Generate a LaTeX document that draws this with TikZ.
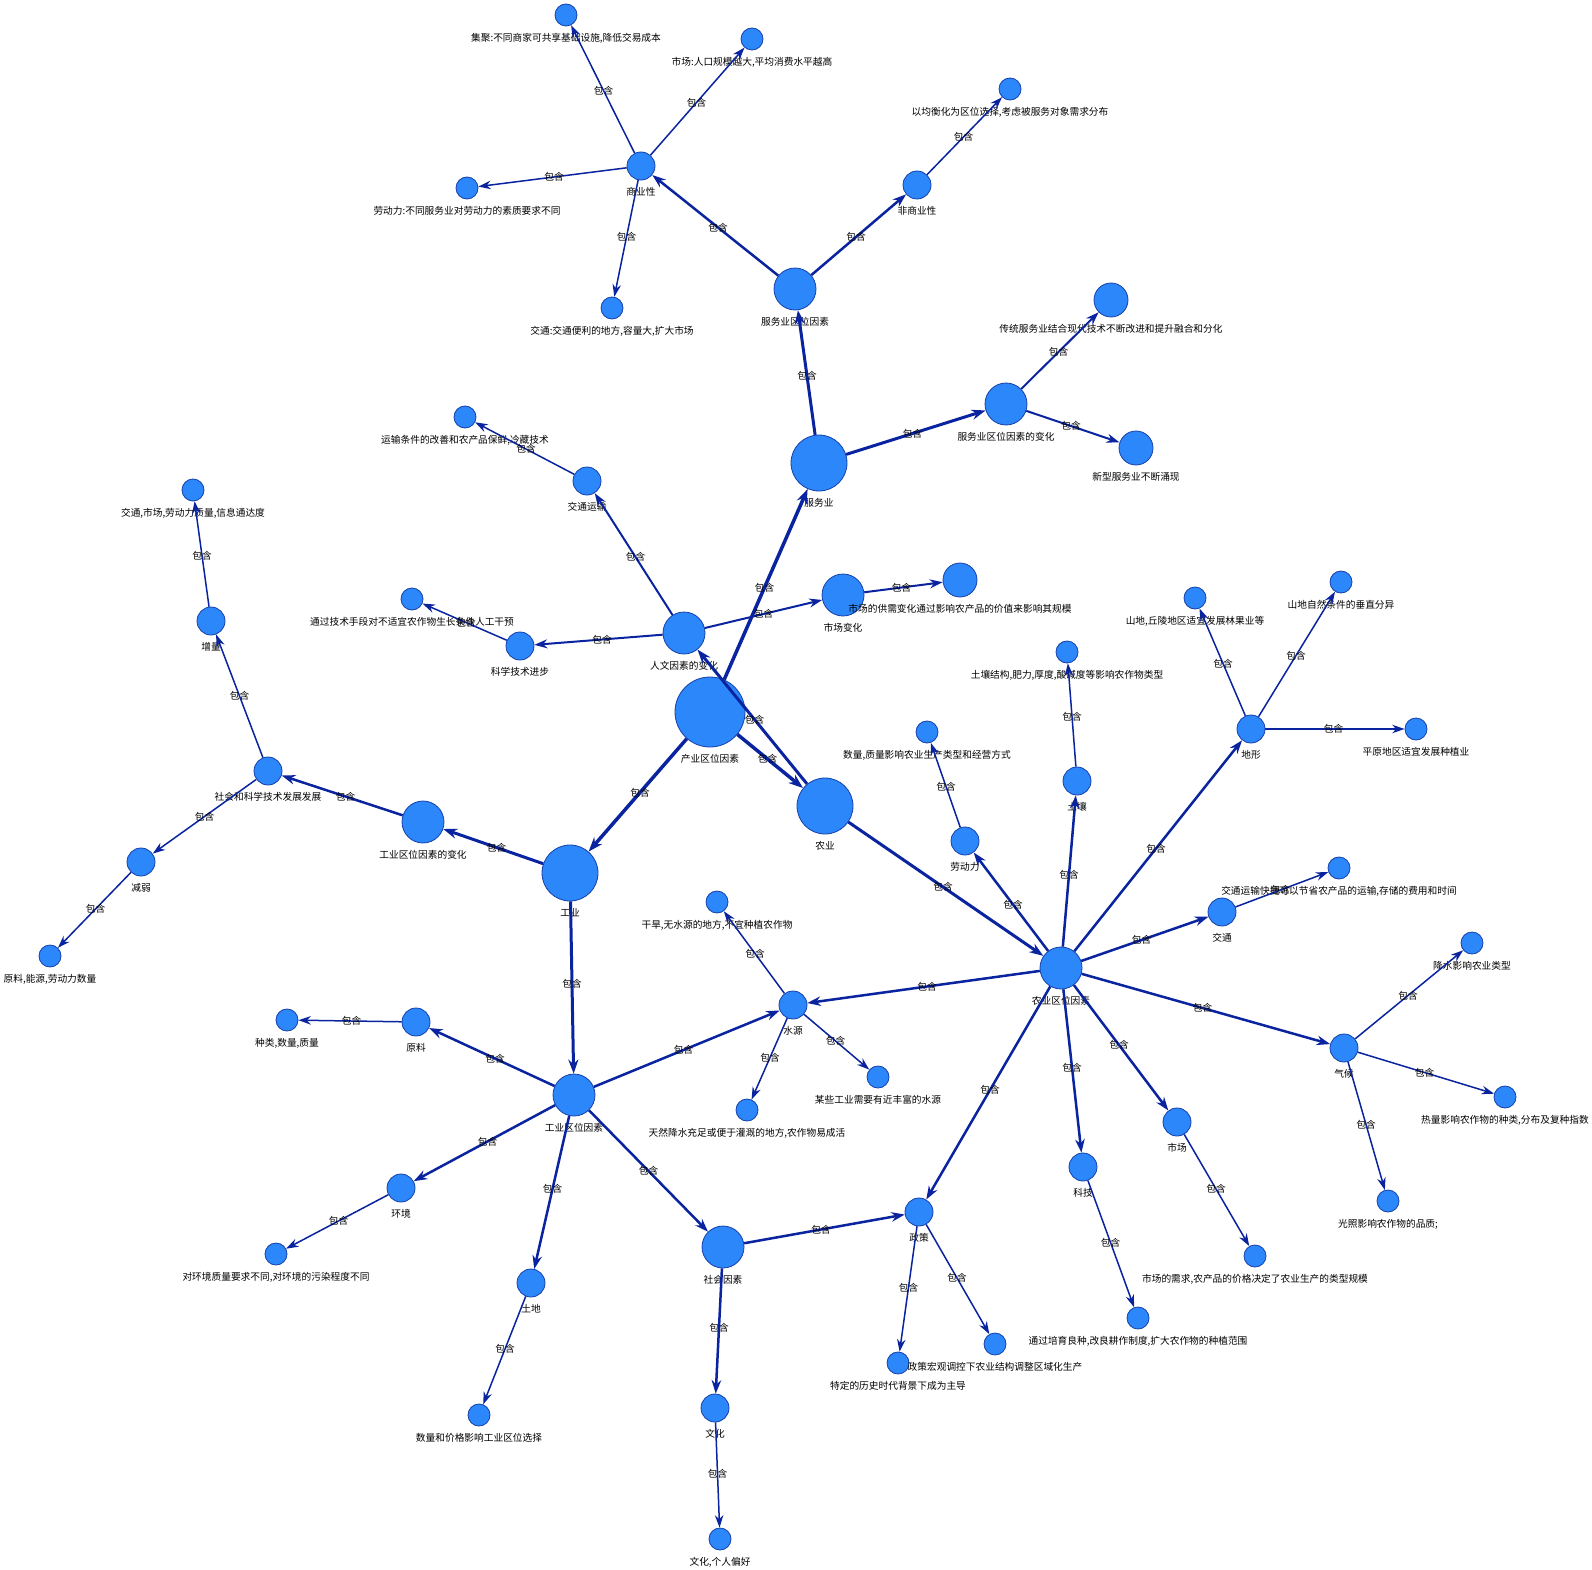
\documentclass[tikz,border=0pt]{standalone}
\usepackage{fontspec}
\newfontfamily\cjk{Noto Sans CJK SC}
\usepackage{tikz}
\usetikzlibrary{arrows.meta, calc}
\usepackage{xcolor}

\definecolor{nodefill}{RGB}{43,135,250}
\definecolor{nodeline}{RGB}{22,64,170}
\definecolor{linkblue}{RGB}{10,36,160}

\begin{document}
\begin{tikzpicture}[
    x = 1pt, y = -1pt,
    vert/.style = {circle, draw=nodeline, line width=0.8pt, fill=nodefill, inner sep=0pt, minimum size=#1pt},
    tag/.style = {font=\cjk\fontsize{9.7}{10}\selectfont, inner sep=0pt, text=black, yshift=-6.5pt},
    link/.style = {draw=linkblue, -{Stealth[length=11pt 1, width=7pt 1]}},
    elabel/.style = {font=\cjk\fontsize{9.7}{10}\selectfont, inner sep=0pt, text=black}
]
    \fill[white] (0,0) rectangle (1592,1570);
    \useasboundingbox (0,0) rectangle (1592,1570);

    % 1. Root
    \node [vert=70, label={[tag]below:{产业区位因素}}] (cyqw) at (710,712) {};

    % 2. Service branch
    \node [vert=56, label={[tag]below:{服务业}}] (fwy) at (819,463) {};
    \node [vert=42, label={[tag]below:{服务业区位因素}}] (fwqw) at (795,289) {};
    \node [vert=28, label={[tag]below:{商业性}}] (syx) at (641,166) {};
    \node [vert=28, label={[tag]below:{非商业性}}] (fsyx) at (917,185) {};
    \node [vert=22, label={[tag]below:{集聚:不同商家可共享基础设施,降低交易成本}}] (jj) at (566,15) {};
    \node [vert=22, label={[tag]below:{市场:人口规模越大,平均消费水平越高}}] (scrk) at (752,39) {};
    \node [vert=22, label={[tag]below:{劳动力:不同服务业对劳动力的素质要求不同}}] (ldlf) at (467,188) {};
    \node [vert=22, label={[tag]below:{交通:交通便利的地方,容量大,扩大市场}}] (jtf) at (612,308) {};
    \node [vert=22, label={[tag]below:{以均衡化为区位选择,考虑被服务对象需求分布}}] (jhh) at (1010,89) {};
    \node [vert=42, label={[tag]below:{服务业区位因素的变化}}] (fwbh) at (1006,404) {};
    \node [vert=34, label={[tag]below:{传统服务业结合现代技术不断改进和提升融合和分化}}] (ctfw) at (1111,300) {};
    \node [vert=34, label={[tag]below:{新型服务业不断涌现}}] (xxfw) at (1136,448) {};

    % 3. Agriculture and human factors
    \node [vert=56, label={[tag]below:{农业}}] (ny) at (825,806) {};
    \node [vert=42, label={[tag]below:{人文因素的变化}}] (rwbh) at (684,633) {};
    \node [vert=28, label={[tag]below:{交通运输}}] (jtys) at (587,481) {};
    \node [vert=22, label={[tag]below:{运输条件的改善和农产品保鲜,冷藏技术}}] (ystj) at (465,417) {};
    \node [vert=28, label={[tag]below:{科学技术进步}}] (kjjb) at (520,646) {};
    \node [vert=22, label={[tag]below:{通过技术手段对不适宜农作物生长条件人工干预}}] (jssd) at (412,599) {};
    \node [vert=42, label={[tag]below:{市场变化}}] (scbh) at (843,595) {};
    \node [vert=34, label={[tag]below:{市场的供需变化通过影响农产品的价值来影响其规模}}] (gxbh) at (960,580) {};

    % 4. Industry branch
    \node [vert=56, label={[tag]below:{工业}}] (gy) at (570,873) {};
    \node [vert=42, label={[tag]below:{工业区位因素的变化}}] (gybh) at (423,822) {};
    \node [vert=28, label={[tag]below:{社会和科学技术发展发展}}] (shkx) at (268,771) {};
    \node [vert=28, label={[tag]below:{增量}}] (zl) at (211,621) {};
    \node [vert=22, label={[tag]below:{交通,市场,劳动力质量,信息通达度}}] (jtsc) at (193,490) {};
    \node [vert=28, label={[tag]below:{减弱}}] (jr) at (141,862) {};
    \node [vert=22, label={[tag]below:{原料,能源,劳动力数量}}] (ylny) at (50,956) {};
    \node [vert=42, label={[tag]below:{工业区位因素}}] (gyqw) at (574,1095) {};
    \node [vert=28, label={[tag]below:{原料}}] (yl) at (416,1022) {};
    \node [vert=22, label={[tag]below:{种类,数量,质量}}] (zlsl) at (287,1020) {};
    \node [vert=28, label={[tag]below:{水源}}] (ws) at (793,1005) {};
    \node [vert=22, label={[tag]below:{干旱,无水源的地方,不宜种植农作物}}] (gh) at (717,902) {};
    \node [vert=22, label={[tag]below:{天然降水充足或便于灌溉的地方,农作物易成活}}] (trjs) at (747,1110) {};
    \node [vert=22, label={[tag]below:{某些工业需要有近丰富的水源}}] (mxgy) at (878,1077) {};
    \node [vert=28, label={[tag]below:{环境}}] (hj) at (401,1188) {};
    \node [vert=22, label={[tag]below:{对环境质量要求不同,对环境的污染程度不同}}] (dhj) at (276,1254) {};
    \node [vert=28, label={[tag]below:{土地}}] (td) at (531,1283) {};
    \node [vert=22, label={[tag]below:{数量和价格影响工业区位选择}}] (sljg) at (479,1415) {};
    \node [vert=42, label={[tag]below:{社会因素}}] (shys) at (723,1247) {};
    \node [vert=28, label={[tag]below:{政策}}] (zc) at (919,1212) {};
    \node [vert=22, label={[tag]below:{特定的历史时代背景下成为主导}}] (tdls) at (898,1363) {};
    \node [vert=22, label={[tag]below:{政策宏观调控下农业结构调整区域化生产}}] (zchg) at (995,1344) {};
    \node [vert=28, label={[tag]below:{文化}}] (wh) at (715,1408) {};
    \node [vert=22, label={[tag]below:{文化,个人偏好}}] (grph) at (720,1539) {};

    % 5. Agricultural location factors
    \node [vert=42, label={[tag]below:{农业区位因素}}] (nyqw) at (1061,968) {};
    \node [vert=28, label={[tag]below:{劳动力}}] (ldl) at (965,841) {};
    \node [vert=22, label={[tag]below:{数量,质量影响农业生产类型和经营方式}}] (slzl) at (927,732) {};
    \node [vert=28, label={[tag]below:{土壤}}] (tr) at (1077,781) {};
    \node [vert=22, label={[tag]below:{土壤结构,肥力,厚度,酸碱度等影响农作物类型}}] (trjg) at (1067,652) {};
    \node [vert=28, label={[tag]below:{地形}}] (dx) at (1251,729) {};
    \node [vert=22, label={[tag]below:{山地,丘陵地区适宜发展林果业等}}] (sdql) at (1195,598) {};
    \node [vert=22, label={[tag]below:{山地自然条件的垂直分异}}] (sdzr) at (1341,582) {};
    \node [vert=22, label={[tag]below:{平原地区适宜发展种植业}}] (py) at (1416,729) {};
    \node [vert=28, label={[tag]below:{交通}}] (jt) at (1222,912) {};
    \node [vert=22, label={[tag]below:{交通运输快捷可以节省农产品的运输,存储的费用和时间}}] (jtkj) at (1339,868) {};
    \node [vert=28, label={[tag]below:{气候}}] (qh) at (1344,1048) {};
    \node [vert=22, label={[tag]below:{降水影响农业类型}}] (js) at (1472,943) {};
    \node [vert=22, label={[tag]below:{热量影响农作物的种类,分布及复种指数}}] (rl) at (1505,1097) {};
    \node [vert=22, label={[tag]below:{光照影响农作物的品质;}}] (gz) at (1388,1201) {};
    \node [vert=28, label={[tag]below:{市场}}] (sc) at (1177,1122) {};
    \node [vert=22, label={[tag]below:{市场的需求,农产品的价格决定了农业生产的类型规模}}] (scxq) at (1255,1256) {};
    \node [vert=28, label={[tag]below:{科技}}] (kj) at (1083,1167) {};
    \node [vert=22, label={[tag]below:{通过培育良种,改良耕作制度,扩大农作物的种植范围}}] (pyl) at (1138,1318) {};

    % 6. Connections (source/target/width)
    \foreach \src/\dst/\lw in {
        cyqw/fwy/3.5, cyqw/gy/3.5, cyqw/ny/3.5,
        fwy/fwqw/3, fwy/fwbh/3,
        fwqw/syx/2.5, fwqw/fsyx/2.5,
        syx/jj/1.5, syx/scrk/1.5, syx/ldlf/1.5, syx/jtf/1.5,
        fsyx/jhh/1.5,
        fwbh/ctfw/2, fwbh/xxfw/2,
        ny/rwbh/3, ny/nyqw/3,
        rwbh/jtys/2, rwbh/kjjb/2, rwbh/scbh/2,
        jtys/ystj/1.5, kjjb/jssd/1.5, scbh/gxbh/2,
        gy/gybh/3, gy/gyqw/3,
        gybh/shkx/2.5, shkx/zl/1.5, shkx/jr/1.5, zl/jtsc/1.5, jr/ylny/1.5,
        gyqw/yl/2.5, gyqw/ws/2.5, gyqw/hj/2.5, gyqw/td/2.5, gyqw/shys/2.5,
        yl/zlsl/1.5, ws/gh/1.5, ws/trjs/1.5, ws/mxgy/1.5, hj/dhj/1.5, td/sljg/1.5,
        shys/zc/2.5, shys/wh/2.5, zc/tdls/1.5, zc/zchg/1.5, wh/grph/1.5,
        nyqw/ws/2.5, nyqw/zc/2.5, nyqw/kj/2.5, nyqw/sc/2.5, nyqw/qh/2.5,
        nyqw/jt/2.5, nyqw/dx/2.5, nyqw/tr/2.5, nyqw/ldl/2.5,
        ldl/slzl/1.5, tr/trjg/1.5, dx/sdql/1.5, dx/sdzr/1.5, dx/py/1.5,
        jt/jtkj/1.5, qh/js/1.5, qh/rl/1.5, qh/gz/1.5, sc/scxq/1.5, kj/pyl/1.5}
    {
        \draw [link, line width=\lw pt] (\src) -- (\dst);
        \node [elabel] at ($(\src.center)!0.5!(\dst.center)$) {包含};
    }
\end{tikzpicture}
\end{document}
